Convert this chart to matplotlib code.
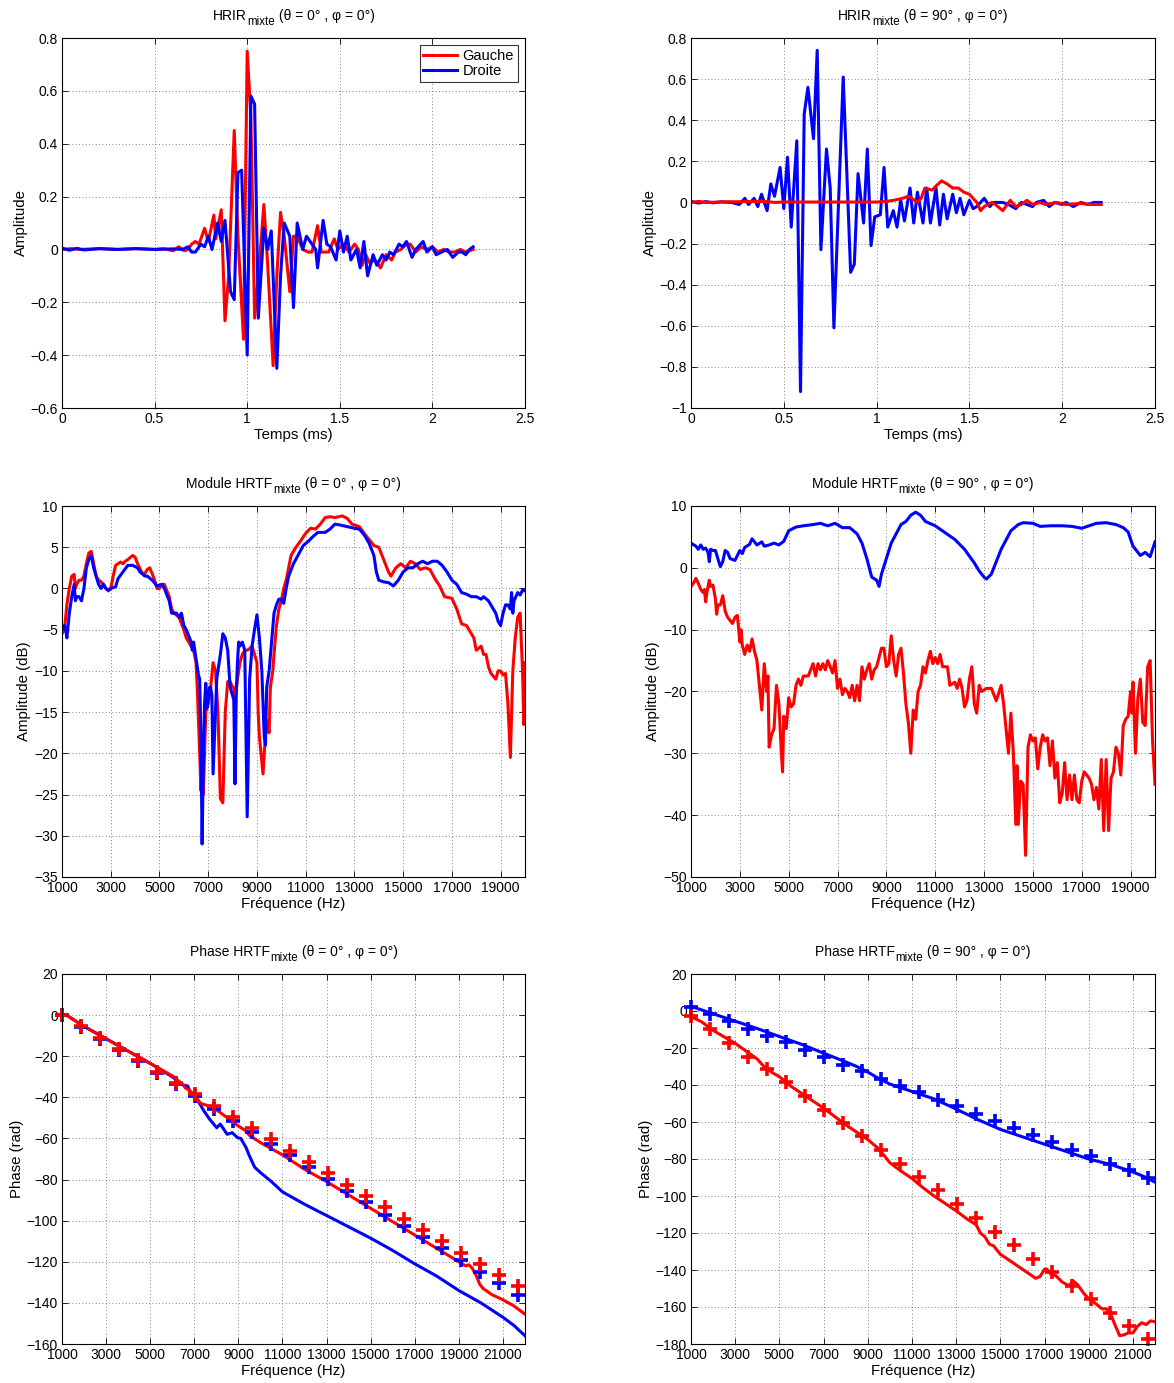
"""
HRIR / HRTF mixte - comparaison Gauche / Droite pour theta = 0 et 90 deg
"""
import numpy as np
import matplotlib
matplotlib.use('Agg')
import matplotlib.pyplot as plt

plt.rcParams['font.family'] = ['Liberation Sans', 'DejaVu Sans']
plt.rcParams['font.size'] = 10

RED = '#ff0000'
BLUE = '#0000ff'

# ---------------- HRIR theta = 0 ----------------
hrir0_g_t = [0, 0.05, 0.1, 0.2, 0.3, 0.4, 0.5, 0.55, 0.6, 0.63, 0.66, 0.68, 0.7, 0.72, 0.74,
             0.77, 0.79, 0.82, 0.83, 0.86, 0.88, 0.9, 0.93, 0.95, 0.98, 1.0, 1.02, 1.04, 1.06,
             1.09, 1.11, 1.14, 1.16, 1.18, 1.2, 1.23, 1.25, 1.27, 1.3, 1.33, 1.35, 1.38, 1.4,
             1.44, 1.47, 1.49, 1.52, 1.55, 1.58, 1.6, 1.62, 1.64, 1.66, 1.69, 1.72, 1.75, 1.78,
             1.8, 1.83, 1.86, 1.88, 1.91, 1.94, 1.97, 2.0, 2.03, 2.06, 2.09, 2.12, 2.15, 2.18, 2.22]
hrir0_g = [0, 0.003, 0, 0.003, 0, 0.003, 0, 0.003, -0.005, 0.01, -0.005, 0.0, 0.02, 0.03, 0.02,
           0.08, 0.03, 0.13, 0.04, 0.15, -0.27, -0.1, 0.45, 0.05, -0.34, 0.75, 0.5, -0.26, -0.1,
           0.17, -0.05, -0.44, -0.1, 0.14, 0.05, -0.16, 0.05, 0.05, 0.0, -0.01, -0.01, 0.09, -0.01,
           -0.01, 0.04, 0.0, 0.02, -0.01, 0.02, 0.0, -0.06, -0.02, -0.05, -0.04, -0.07, -0.02, -0.04,
           -0.01, 0.0, 0.02, 0.02, -0.01, 0.01, 0.0, 0.01, -0.01, 0.0, -0.01, -0.01, 0.0, -0.01, 0.0]

hrir0_d_t = [0, 0.04, 0.08, 0.12, 0.2, 0.3, 0.4, 0.5, 0.6, 0.65, 0.68, 0.7, 0.72, 0.75, 0.77,
             0.79, 0.81, 0.84, 0.86, 0.88, 0.91, 0.93, 0.95, 0.97, 1.0, 1.02, 1.04, 1.06, 1.09,
             1.11, 1.13, 1.16, 1.18, 1.2, 1.23, 1.25, 1.27, 1.3, 1.32, 1.35, 1.37, 1.38, 1.41,
             1.43, 1.45, 1.48, 1.5, 1.52, 1.54, 1.56, 1.59, 1.61, 1.63, 1.65, 1.68, 1.7, 1.73,
             1.75, 1.77, 1.79, 1.82, 1.84, 1.86, 1.89, 1.91, 1.95, 1.97, 2.0, 2.02, 2.05, 2.08,
             2.11, 2.14, 2.16, 2.18, 2.2, 2.22]
hrir0_d = [0.005, -0.003, 0.004, -0.002, 0.003, 0.0, 0.003, 0.0, 0.002, 0.0, 0.01, -0.01, -0.01,
           0.02, 0.01, 0.05, 0.0, 0.1, 0.03, 0.11, -0.16, -0.19, 0.29, 0.3, -0.4, 0.58, 0.55,
           -0.26, 0.08, 0.0, 0.07, -0.45, -0.1, 0.1, 0.05, -0.22, 0.1, 0.0, 0.05, 0.02, 0.0,
           -0.07, 0.11, 0.02, 0.01, -0.04, 0.07, -0.01, 0.05, -0.04, 0.0, -0.07, 0.03, -0.1,
           -0.02, -0.06, -0.02, -0.04, -0.01, -0.02, 0.02, 0.01, 0.03, -0.03, 0.0, 0.03, -0.01,
           0.01, -0.02, -0.01, 0.0, -0.03, -0.01, -0.01, -0.02, 0.0, 0.01]

# ---------------- HRIR theta = 90 ----------------
hrir90_g_t = [0, 0.04, 0.08, 0.2, 0.4, 0.45, 0.5, 0.7, 1.0, 1.05, 1.09, 1.14, 1.17, 1.19, 1.22,
              1.24, 1.26, 1.3, 1.32, 1.35, 1.38, 1.41, 1.44, 1.47, 1.5, 1.54, 1.56, 1.58, 1.62,
              1.64, 1.68, 1.72, 1.75, 1.78, 1.81, 1.84, 1.88, 1.91, 1.97, 2.02, 2.1, 2.16, 2.21]
hrir90_g = [0.0, 0.005, 0.0, 0.003, 0.005, 0.0, 0.002, 0.002, 0.002, 0.005, 0.01, 0.02, 0.03,
            0.02, 0.0, 0.02, 0.07, 0.06, 0.08, 0.105, 0.09, 0.07, 0.07, 0.05, 0.04, 0.0, -0.04,
            -0.02, 0.0, -0.01, -0.04, 0.01, -0.02, -0.01, 0.01, -0.01, 0.0, -0.01, 0.0, -0.01,
            -0.005, -0.01, -0.01]

hrir90_d_t = [0, 0.04, 0.08, 0.12, 0.16, 0.22, 0.26, 0.29, 0.31, 0.34, 0.36, 0.38, 0.41, 0.43,
              0.45, 0.48, 0.5, 0.52, 0.54, 0.57, 0.59, 0.61, 0.63, 0.66, 0.68, 0.7, 0.73, 0.75,
              0.77, 0.82, 0.86, 0.88, 0.9, 0.93, 0.95, 0.97, 0.99, 1.02, 1.04, 1.06, 1.09, 1.11,
              1.13, 1.15, 1.18, 1.2, 1.22, 1.25, 1.27, 1.29, 1.32, 1.34, 1.36, 1.38, 1.41, 1.43,
              1.45, 1.47, 1.5, 1.52, 1.54, 1.58, 1.61, 1.63, 1.68, 1.71, 1.75, 1.78, 1.81, 1.84,
              1.86, 1.9, 1.93, 1.96, 2.0, 2.02, 2.06, 2.1, 2.14, 2.17, 2.21]
hrir90_d = [0.005, -0.003, 0.004, -0.002, 0.003, 0.0, -0.01, 0.02, -0.01, 0.02, -0.02, 0.04,
            -0.04, 0.09, 0.03, 0.17, -0.03, 0.22, -0.12, 0.3, -0.92, 0.43, 0.56, 0.31, 0.74,
            -0.23, 0.26, 0.07, -0.61, 0.61, -0.34, -0.3, 0.14, -0.1, 0.26, -0.21, -0.07, -0.06,
            0.17, -0.12, -0.04, -0.12, 0.01, -0.09, 0.07, -0.1, 0.05, -0.1, 0.07, -0.1, 0.07,
            -0.11, 0.04, -0.08, 0.04, -0.05, 0.02, -0.06, 0.01, -0.03, -0.02, 0.02, -0.02, 0.0,
            0.0, -0.01, -0.03, 0.0, -0.01, -0.02, 0.0, 0.01, -0.02, 0.0, -0.01, 0.0, -0.02, 0.0,
            -0.01, 0.0, 0.0]

# ---------------- Module HRTF theta = 0 ----------------
mod0_g_f = [1000, 1100, 1200, 1300, 1400, 1500, 1550, 1600, 1700, 1800, 1900, 2000, 2100, 2200,
            2300, 2400, 2500, 2600, 2700, 2800, 2900, 3000, 3100, 3200, 3400, 3500, 3600, 3700,
            3900, 4000, 4100, 4300, 4400, 4500, 4600, 4700, 4800, 4900, 5000, 5100, 5200, 5400,
            5500, 5600, 5800, 6000, 6100, 6200, 6400, 6500, 6550, 6650, 6700, 6750, 6800, 6850,
            6900, 7000, 7100, 7200, 7300, 7400, 7500, 7600, 7700, 7800, 7900, 8000, 8050, 8100,
            8200, 8300, 8400, 8500, 8600, 8700, 8800, 8900, 9000, 9050, 9100, 9200, 9250, 9300,
            9400, 9500, 9550, 9650, 9700, 9800, 9900, 10000, 10100, 10200, 10300, 10400, 10600,
            10800, 11000, 11200, 11400, 11600, 11800, 12000, 12200, 12500, 12700, 12900, 13200,
            13500, 13800, 14000, 14200, 14400, 14500, 14700, 14900, 15100, 15300, 15500, 15700,
            15900, 16100, 16300, 16500, 16700, 17000, 17200, 17400, 17600, 17800, 17900, 18000,
            18200, 18300, 18400, 18500, 18600, 18800, 18900, 19000, 19100, 19200, 19300, 19400,
            19500, 19600, 19700, 19800, 19900, 19950, 20000]
mod0_g = [-5.5, -5, -2, 0, 1.5, 1.7, 0, 0.5, 1, 1, 1.5, 3, 4.3, 4.5, 3, 1.5, 1, 0.8, 0.5, 0,
          -0.3, 0, 1.5, 2.8, 3.2, 3, 3.3, 3.5, 4, 3.8, 3, 1.8, 1.8, 2.3, 2.5, 1.8, 1, 0, 0, 0.5,
          0.5, -1, -2.5, -3, -3.5, -5, -6, -6.5, -7.5, -9, -12, -20, -24.5, -21, -25, -20, -15,
          -14, -12, -9, -10, -15, -25.5, -26, -15, -11.3, -11.3, -12, -12, -13.5, -11, -9, -8,
          -7.5, -7.5, -7.3, -7, -8, -9, -15, -18, -21, -22.5, -20, -16, -17.5, -12, -10, -8, -4.5,
          -2.5, -1.5, 0, 1, 2.5, 4, 5, 5.8, 6.7, 7.3, 7.2, 7.8, 8.6, 8.7, 8.6, 8.8, 8.5, 7.8,
          7.5, 6.3, 5.2, 5, 3.5, 2, 1.5, 2.5, 3, 2.5, 3.3, 3, 2.3, 2.5, 2.3, 1.2, 0.3, -1, -1.2,
          -2.5, -4.3, -4.5, -5.5, -6, -7.5, -7, -8, -8, -9.5, -10.3, -11, -10, -10, -10.5, -10.3,
          -14, -20.5, -10, -6, -3.5, -3, -10, -16.5, -9]

mod0_d_f = [1000, 1100, 1150, 1200, 1300, 1400, 1500, 1550, 1600, 1700, 1800, 1900, 2000, 2100,
            2200, 2300, 2400, 2500, 2600, 2700, 2800, 2900, 3000, 3200, 3300, 3500, 3700, 3900,
            4100, 4200, 4400, 4500, 4700, 4900, 5100, 5200, 5400, 5500, 5700, 5800, 5900, 6000,
            6100, 6300, 6350, 6400, 6500, 6600, 6650, 6700, 6750, 6800, 6850, 6900, 6950, 7000,
            7050, 7100, 7150, 7200, 7300, 7350, 7400, 7500, 7600, 7700, 7800, 7900, 8000, 8050,
            8100, 8150, 8200, 8250, 8300, 8400, 8450, 8500, 8600, 8700, 8800, 8900, 9000, 9100,
            9200, 9300, 9350, 9400, 9500, 9600, 9700, 9800, 9900, 10000, 10100, 10200, 10300,
            10500, 10700, 10900, 11100, 11300, 11500, 11800, 12000, 12200, 12400, 12700, 13000,
            13200, 13400, 13600, 13800, 13900, 14000, 14200, 14400, 14600, 14800, 15000, 15200,
            15400, 15600, 15800, 16000, 16200, 16400, 16600, 16800, 17000, 17200, 17400, 17600,
            17800, 18000, 18200, 18300, 18500, 18600, 18800, 18900, 19000, 19100, 19200, 19300,
            19400, 19450, 19500, 19550, 19700, 19800, 19900, 20000]
mod0_d = [-5, -4.5, -5, -6, -3, -1, 0.5, -1.5, -1, -1, -1.5, 0, 2.5, 3.5, 4, 2.5, 1.5, 0.5, 0,
          0.5, 0, -0.2, 0, 0.2, 1.2, 2, 2.8, 2.8, 2.5, 2, 1.5, 1.5, 1, 0.3, 0.5, 0, -1.5, -3, -3,
          -3.5, -3, -4.5, -5, -6.5, -7.5, -6.5, -8.5, -10.5, -11, -18, -31, -21, -14, -11.5,
          -14.5, -13.5, -12, -12, -13, -22.5, -15, -11, -10, -8, -5.5, -6, -7.5, -12, -13, -13.5,
          -23.7, -13, -9, -6.5, -7, -6.5, -7, -7.5, -27.7, -11, -7, -5, -3.2, -6, -10, -18, -19,
          -12, -10, -6.5, -3, -2, -1.3, -1.3, -1.8, 0, 1.5, 3, 4.1, 5.2, 5.7, 6.3, 6.8, 6.8, 7.2,
          7.8, 7.7, 7.5, 7.3, 7.2, 6.5, 5.5, 4, 2, 1, 0.8, 0.7, 0.3, 1, 2, 2.5, 2.5, 3, 3.3, 3,
          3.3, 3.3, 2.8, 2, 1, 0.5, -0.5, -0.7, -1, -1, -1.3, -1, -1.5, -2, -3, -4, -4.5, -3, -2,
          -2, -2.5, -0.5, -3, -1.5, -0.5, -0.8, -0.2, -0.3]

# ---------------- Module HRTF theta = 90 ----------------
mod90_d_f = [1000, 1200, 1300, 1400, 1500, 1600, 1700, 1750, 1800, 1900, 2000, 2100, 2200, 2300,
             2400, 2500, 2600, 2800, 2900, 3000, 3100, 3200, 3400, 3500, 3600, 3700, 3900, 4000,
             4200, 4400, 4600, 4800, 5000, 5300, 5600, 6000, 6300, 6600, 6900, 7200, 7500, 7800,
             8000, 8200, 8300, 8400, 8600, 8700, 8800, 9000, 9200, 9400, 9600, 9800, 10000, 10200,
             10400, 10600, 11000, 11400, 11800, 12200, 12600, 12800, 13000, 13100, 13300, 13500,
             13700, 13900, 14100, 14400, 14600, 15000, 15300, 15700, 16200, 16600, 17000, 17300,
             17600, 18000, 18400, 18700, 18900, 19100, 19300, 19400, 19600, 19800, 20000]
mod90_d = [4, 3.5, 3, 3.7, 3, 3.2, 2.5, 1, 3, 2.8, 2.8, 1.5, 0.2, 1, 2.8, 2.5, 1.5, 1.2, 2, 2.8,
           2.3, 3.3, 3.8, 4.7, 4.2, 3.7, 4.2, 3.5, 3.7, 4, 3.7, 4.3, 6, 6.6, 6.8, 7, 7.2, 6.8,
           7.2, 6.5, 6.5, 5.5, 4, 1.5, 0, -1.5, -2, -3, -1, 1.5, 4, 5.5, 7, 7.5, 8.5, 9, 8.5, 7.5,
           6.8, 5.7, 4.6, 3, 0.8, -0.5, -1.5, -1.8, -1, 1, 3, 4.5, 6, 7, 7.3, 7.2, 6.7, 6.8, 6.8,
           6.7, 6.4, 6.8, 7.2, 7.3, 7, 6.5, 5.8, 3.5, 2.5, 2, 2.5, 1.8, 4.2]

mod90_g_f = [1000, 1100, 1200, 1300, 1400, 1500, 1550, 1600, 1650, 1700, 1750, 1800, 1900, 2000,
             2050, 2100, 2200, 2300, 2400, 2500, 2600, 2700, 2800, 2900, 3000, 3050, 3100, 3200,
             3300, 3400, 3500, 3600, 3700, 3800, 3900, 4000, 4100, 4150, 4200, 4300, 4400, 4500,
             4600, 4700, 4750, 4800, 4900, 5000, 5100, 5200, 5300, 5400, 5500, 5600, 5800, 5900,
             6000, 6100, 6200, 6300, 6400, 6500, 6600, 6800, 6900, 7000, 7100, 7200, 7300, 7400,
             7500, 7600, 7700, 7800, 7900, 8000, 8100, 8200, 8300, 8400, 8500, 8600, 8800, 8900,
             9000, 9100, 9200, 9300, 9400, 9500, 9600, 9700, 9800, 9900, 10000, 10100, 10200,
             10300, 10400, 10500, 10600, 10700, 10800, 10900, 11000, 11100, 11200, 11300, 11500,
             11600, 11800, 11900, 12000, 12100, 12200, 12300, 12400, 12500, 12600, 12700, 12800,
             12900, 13100, 13300, 13500, 13700, 13800, 13900, 14000, 14100, 14200, 14300, 14350,
             14400, 14500, 14600, 14700, 14800, 14900, 15000, 15100, 15200, 15300, 15400, 15500,
             15600, 15700, 15800, 15900, 16000, 16100, 16200, 16300, 16400, 16500, 16600, 16700,
             16800, 16900, 17000, 17100, 17300, 17400, 17500, 17600, 17700, 17800, 17900, 18000,
             18100, 18200, 18300, 18400, 18500, 18600, 18700, 18800, 18900, 19000, 19050, 19100,
             19200, 19300, 19400, 19500, 19600, 19700, 19800, 19900, 20000]
mod90_g = [-3, -2.5, -1.7, -2.5, -3.5, -4, -3.5, -5.5, -4, -3, -2, -3, -2.8, -5, -7.5, -6, -6,
           -4.5, -7, -8, -8.5, -9, -8, -7.7, -12, -10, -12.5, -14, -12.5, -13.5, -11.5, -13.5,
           -15, -19, -23, -15.5, -20, -17.5, -29, -27, -26, -19, -22, -30, -33, -24, -26, -21,
           -22.5, -22, -19, -18, -19, -17.5, -17.5, -16.5, -15.5, -17.5, -15.5, -16.5, -15.5,
           -16.5, -15, -17, -15, -19.5, -18, -20.5, -19.5, -20, -21, -19, -21.5, -19, -21.5, -16,
           -18, -16.5, -15.5, -18, -16.5, -16, -13, -13, -16, -15.5, -11, -15, -17.5, -14, -13,
           -17, -22, -25, -30, -23, -24.5, -20, -19, -16, -17, -15, -13.5, -15.5, -14.5, -15.5,
           -14, -16, -16, -19, -18.5, -19.5, -18, -19.5, -22.5, -21.5, -18, -16, -22, -23.5, -19,
           -20, -19.5, -19.5, -21.5, -19, -22, -26, -30, -23.5, -30, -41.5, -32, -41.5, -34.5,
           -35, -46.5, -29, -27, -28, -27.5, -32.5, -29, -27, -28, -27.5, -32, -28, -34, -31.5,
           -38, -36.5, -31.5, -37.5, -33.5, -37.5, -33.5, -37.5, -38, -34.5, -33, -34, -35, -37.5,
           -35.5, -39, -31, -42.5, -31, -42.5, -34, -33, -29, -30, -33.5, -25.5, -24.5, -24, -20,
           -23.5, -18.5, -30, -21, -18, -25, -25.5, -16, -15, -28, -35]

# ---------------- Phase HRTF ----------------
marker_f = [1000, 1860, 2720, 3580, 4450, 5310, 6170, 7030, 7890, 8750, 9610, 10470, 11340,
            12200, 13060, 13920, 14780, 15640, 16500, 17360, 18230, 19090, 19950, 20810, 21670]

ph0_g_pts = [0, -5.5, -11, -16.5, -22, -27.5, -33, -38.5, -44, -49.5, -55, -60.5, -66, -71.5,
             -77, -82.5, -88, -93.5, -99, -104.5, -110, -115.5, -121, -126.5, -132]
ph0_d_pts = [0, -6, -11.5, -17, -22.5, -28, -33.5, -39.5, -45.5, -51.5, -57, -62.5, -68, -74,
             -79.5, -85.5, -91, -97, -102.5, -108, -113.5, -119, -125, -130.5, -136]

ph0_g_f = [1000, 1200, 2000, 3000, 4000, 5000, 6000, 6500, 6600, 6700, 6900, 7000, 7300, 7600,
           8000, 8500, 9000, 9300, 9500, 10000, 11000, 12000, 13000, 14000, 15000, 16000, 17000,
           18000, 19000, 19300, 19450, 19600, 19800, 19950, 20100, 20500, 21000, 21500, 22000]
ph0_g = [0, 0.0, -5.5, -11.5, -17.5, -23.5, -29.5, -34, -35.5, -36, -38, -39, -43, -44, -46, -50,
         -54, -56, -58.5, -62, -68, -75, -81, -87.5, -94, -100.5, -107, -113.5, -120, -122, -121.5,
         -123, -127, -131, -133, -136, -138.5, -141.5, -145.5]

ph0_d_f = [1000, 1200, 2000, 3000, 4000, 5000, 6000, 6500, 6700, 6800, 7000, 7080, 7400, 7700,
           8020, 8180, 8490, 8720, 8960, 9110, 9350, 9500, 9740, 10000, 10500, 11000, 12000, 13000,
           14000, 15000, 16000, 17000, 18000, 19000, 20000, 21000, 21500, 22000]
ph0_d = [0, 0.0, -5.5, -11.5, -17.5, -23.5, -30, -34, -34.5, -37, -39, -40, -46, -50.7, -54.8,
         -53, -58, -57.2, -59.6, -60, -64.5, -68.5, -74, -76.6, -81, -86, -92, -97.5, -103, -108.5,
         -114.5, -121, -127, -134, -140, -147, -151, -156]

ph90_g_pts = [-2.7, -9.9, -17.4, -24.6, -31.2, -38.6, -45.8, -53.4, -60.6, -67.7, -75.3, -82.6,
              -89.8, -97, -104.5, -111.8, -119.3, -126.5, -133.8, -141, -148.5, -155.7, -163,
              -170, -177.3]
ph90_d_pts = [2.3, -1.6, -5.4, -9.7, -13.3, -17, -21, -25, -29, -32.7, -36.7, -40.4, -44, -48,
              -51.6, -55.5, -59.7, -63.3, -67.2, -70.8, -74.9, -78.5, -82.5, -86.1, -90.2]

ph90_g_f = [1000, 1500, 2000, 3000, 4000, 4300, 4500, 4700, 5000, 5500, 6000, 6500, 7000, 7500,
            8000, 8500, 9000, 9500, 9800, 10000, 10500, 11000, 11500, 12000, 12500, 13000, 13500,
            13900, 14100, 14300, 14500, 14700, 15000, 15500, 16000, 16300, 16600, 16800, 17000,
            17100, 17300, 17500, 17800, 18100, 18300, 18500, 18800, 19000, 19300, 19600, 19800,
            20000, 20200, 20400, 20600, 20800, 21000, 21200, 21400, 21600, 21800, 22000]
ph90_g = [-3, -6, -10.5, -17.5, -26, -30, -31.5, -33.5, -35.5, -40.5, -44.5, -48.5, -52.5, -57,
          -61.5, -65.5, -69.5, -74.5, -79, -82, -86.5, -90.5, -95.5, -100, -104, -108, -112.5,
          -115.5, -120, -122, -126, -127, -131.5, -135.5, -139.6, -142, -144.5, -143.5, -139.6,
          -139.5, -142.5, -143, -146.5, -148.5, -146, -148, -153, -155.5, -158, -161, -161, -164,
          -170, -175.5, -175, -174, -174, -170.5, -168.5, -169.5, -167.5, -168]

ph90_d_f = [1000, 2000, 3000, 4000, 5000, 6000, 7000, 8000, 8500, 9000, 9500, 10000, 11000,
            12000, 13000, 14000, 15000, 16000, 17000, 18000, 19000, 20000, 21000, 21500, 22000]
ph90_d = [2.5, -1.5, -5.5, -9.5, -13.8, -18, -22.8, -27.5, -30, -33, -36.5, -39.5, -43.5, -47.5,
          -53, -58.8, -64, -68, -72, -76, -80, -83, -87, -89.5, -92.5]

# ---------------- Figure ----------------
DPI = 100
fig = plt.figure(figsize=(11.74, 13.83), dpi=DPI)
fig.patch.set_facecolor('white')

col_x = [62 / 1174, 691 / 1174]
col_w = [463 / 1174, 464 / 1174]
row_y = [1 - 408 / 1383, 1 - 877 / 1383, 1 - 1344 / 1383]
row_h = [370 / 1383, 371 / 1383, 370 / 1383]

axes = [[fig.add_axes([col_x[c], row_y[r], col_w[c], row_h[r]]) for c in range(2)]
        for r in range(3)]

LABEL_FS = 10.8
titles = []


def style(ax):
    ax.grid(True, linestyle=(0, (1, 3)), color='0.35', linewidth=0.6)
    ax.tick_params(direction='in', top=True, right=True, length=4, width=0.6,
                   labelsize=10, pad=3)
    for sp in ax.spines.values():
        sp.set_linewidth(0.8)
    ax.set_axisbelow(True)


def set_title(ax, main, theta):
    # "main" + subscript "mixte" + " (theta = .. , phi = 0)" as three chained texts
    t1 = ax.annotate(main, xy=(0.5, 1), xycoords='axes fraction', xytext=(0, 13),
                     textcoords='offset points', ha='left', va='baseline', fontsize=10)
    t2 = ax.annotate('mixte', xy=(1, 1), xycoords=(t1, 'axes fraction'), xytext=(0.3, 9.5),
                     textcoords='offset points', ha='left', va='baseline', fontsize=8.3)
    t3 = ax.annotate(' (θ = ' + theta + '° , φ = 0°)', xy=(1, 1),
                     xycoords=(t2, 'axes fraction'), xytext=(0, 13),
                     textcoords='offset points', ha='left', va='baseline', fontsize=10)
    titles.append((t1, t3))


def fmt_ticks(ax, vals):
    ax.set_yticks(vals)
    ax.set_yticklabels([('%g' % (round(v, 1) + 0.0)).replace('-', '\u2212') for v in vals])


LW = 2.2

# HRIR
for c, (tg, g, td, d, th, ylim, yt) in enumerate([
        (hrir0_g_t, hrir0_g, hrir0_d_t, hrir0_d, '0', (-0.6, 0.8), np.arange(-0.6, 0.81, 0.2)),
        (hrir90_g_t, hrir90_g, hrir90_d_t, hrir90_d, '90', (-1, 0.8), np.arange(-1, 0.81, 0.2))]):
    ax = axes[0][c]
    if c == 0:
        ax.plot(tg, g, color=RED, lw=LW, label='Gauche')
        ax.plot(td, d, color=BLUE, lw=LW, label='Droite')
    else:
        ax.plot(td, d, color=BLUE, lw=LW, label='Droite')
        ax.plot(tg, g, color=RED, lw=LW, label='Gauche')
    ax.set_xlim(0, 2.5)
    ax.set_ylim(*ylim)
    fmt_ticks(ax, yt)
    ax.set_xticks([0, 0.5, 1, 1.5, 2, 2.5])
    ax.set_xticklabels(['0', '0.5', '1', '1.5', '2', '2.5'])
    ax.set_xlabel('Temps (ms)', labelpad=1, fontsize=LABEL_FS)
    ax.set_ylabel('Amplitude', labelpad=2, fontsize=LABEL_FS)
    set_title(ax, 'HRIR', th)
    style(ax)
    if c == 0:
        leg = ax.legend(loc='upper right', fancybox=False, edgecolor='black', fontsize=10.5,
                        handlelength=2.3, borderpad=0.25, labelspacing=0.1,
                        handletextpad=0.4, borderaxespad=0.5)
        leg.get_frame().set_linewidth(0.8)

# Module
for c, (fg, g, fd, d, th, ylim, yt) in enumerate([
        (mod0_g_f, mod0_g, mod0_d_f, mod0_d, '0', (-35, 10), np.arange(-35, 11, 5)),
        (mod90_g_f, mod90_g, mod90_d_f, mod90_d, '90', (-50, 10), np.arange(-50, 11, 10))]):
    ax = axes[1][c]
    ax.plot(fg, g, color=RED, lw=LW)
    ax.plot(fd, d, color=BLUE, lw=LW)
    ax.set_xlim(1000, 20000)
    ax.set_ylim(*ylim)
    fmt_ticks(ax, yt)
    ax.set_xticks(np.arange(1000, 19001, 2000))
    ax.set_xlabel('Fréquence (Hz)', labelpad=1, fontsize=LABEL_FS)
    ax.set_ylabel('Amplitude (dB)', labelpad=2, fontsize=LABEL_FS)
    set_title(ax, 'Module HRTF', th)
    style(ax)

# Phase
for c, (fg, g, fd, d, pg, pd, th, ylim, yt) in enumerate([
        (ph0_g_f, ph0_g, ph0_d_f, ph0_d, ph0_g_pts, ph0_d_pts, '0', (-160, 20),
         np.arange(-160, 21, 20)),
        (ph90_g_f, ph90_g, ph90_d_f, ph90_d, ph90_g_pts, ph90_d_pts, '90', (-180, 20),
         np.arange(-180, 21, 20))]):
    ax = axes[2][c]
    ax.plot(fd, d, color=BLUE, lw=LW)
    ax.plot(fg, g, color=RED, lw=LW)
    ax.plot(marker_f, pd, linestyle='none', marker='+', color=BLUE, markersize=9.5, mew=2.6,
            clip_on=False)
    ax.plot(marker_f, pg, linestyle='none', marker='+', color=RED, markersize=9.5, mew=2.6,
            clip_on=False)
    ax.set_xlim(1000, 22000)
    ax.set_ylim(*ylim)
    fmt_ticks(ax, yt)
    ax.set_xticks(np.arange(1000, 21001, 2000))
    ax.set_xlabel('Fréquence (Hz)', labelpad=1, fontsize=LABEL_FS)
    ax.set_ylabel('Phase (rad)', labelpad=2, fontsize=LABEL_FS)
    set_title(ax, 'Phase HRTF', th)
    style(ax)

# centre the composite titles over their axes
fig.canvas.draw()
renderer = fig.canvas.get_renderer()
for t1, t3 in titles:
    x0 = t1.get_window_extent(renderer).x0
    x1 = t3.get_window_extent(renderer).x1
    width_pt = (x1 - x0) * 72.0 / DPI
    t1.xyann = (-width_pt / 2.0, 13)

plt.savefig('out.png', dpi=DPI, facecolor='white')
plt.close()
